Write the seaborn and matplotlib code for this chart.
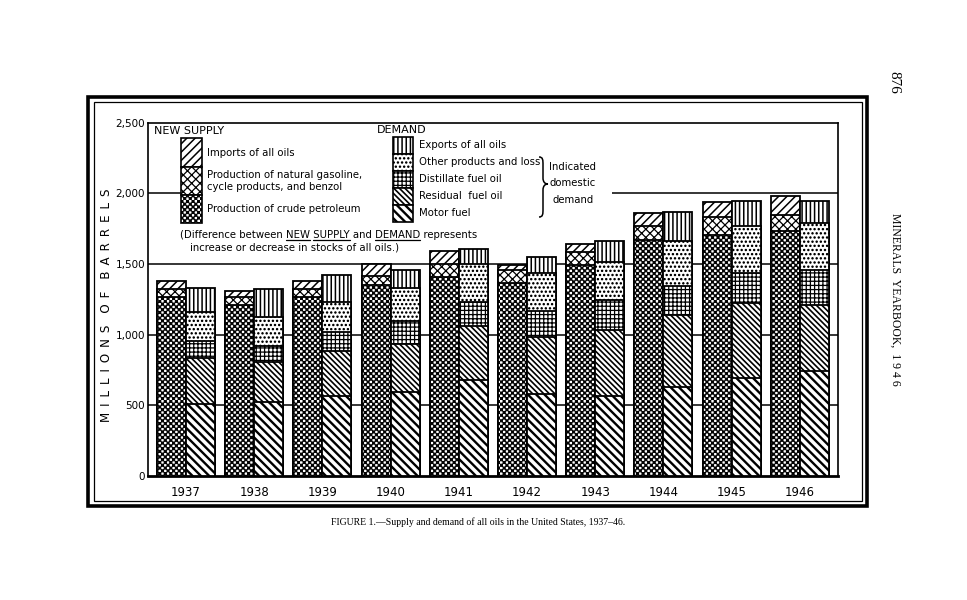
import numpy as np
import pandas as pd
import matplotlib
matplotlib.use("Agg")
import matplotlib.pyplot as plt
import matplotlib.hatch as mhatch
from matplotlib.path import Path
from matplotlib.patches import Rectangle, PathPatch
from matplotlib.lines import Line2D
import seaborn as sns

# ---------------- data (millions of barrels) ----------------
years = ["1937", "1938", "1939", "1940", "1941", "1942", "1943", "1944", "1945", "1946"]
# New supply (bottom to top)
crude = [1268, 1209, 1268, 1353, 1405, 1367, 1489, 1667, 1703, 1731]
natural_gasoline = [54, 55, 54, 59, 94, 90, 94, 99, 126, 112]
imports = [55, 46, 55, 87, 94, 32, 61, 93, 108, 134]
# Demand (bottom to top)
motor_fuel = [511, 523, 563, 594, 681, 582, 564, 629, 692, 740]
residual = [325, 282, 320, 336, 378, 404, 468, 511, 528, 471]
distillate = [117, 117, 134, 169, 174, 182, 211, 204, 218, 243]
other_products = [205, 201, 211, 228, 266, 265, 272, 316, 328, 335]
exports = [171, 199, 193, 132, 105, 117, 145, 204, 180, 157]

y_ticks = [0, 500, 1000, 1500, 2000, 2500]
y_tick_labels = ["0", "500", "1,000", "1,500", "2,000", "2,500"]


# ---------------- custom checkerboard hatch for crude petroleum ----------------
class CheckerHatch(mhatch.HatchPatternBase):
    def __init__(self, hatch, density):
        n = hatch.count('*') * density
        if n % 2:
            n += 1
        self.n = n
        self.cells = [(i, j) for i in range(n) for j in range(n) if (i + j) % 2 == 0]
        self.num_vertices = len(self.cells) * 5

    def set_vertices_and_codes(self, vertices, codes):
        a = 1.0 / self.n
        ins = 0.13 * a
        sq = np.array([[ins, ins], [a - ins, ins], [a - ins, a - ins], [ins, a - ins], [ins, ins]])
        c = [Path.MOVETO, Path.LINETO, Path.LINETO, Path.LINETO, Path.CLOSEPOLY]
        for k, (i, j) in enumerate(self.cells):
            vertices[k * 5:(k + 1) * 5] = sq + [i * a, j * a]
            codes[k * 5:(k + 1) * 5] = c


mhatch._hatch_types[mhatch._hatch_types.index(mhatch.Stars)] = CheckerHatch
mhatch.SmallFilledCircles.size = 0.16

H_IMP = '////'
H_NAT = 'xxxx'
H_CRUDE = '******'
H_EXP = '||||'
H_OTH = '....'
H_DIS = '++++'
H_RES = '\\' * 6
H_MOT = '\\' * 4

HLW = {H_IMP: 1.1, H_NAT: 0.9, H_CRUDE: 0.8, H_EXP: 1.1, H_OTH: 0.8,
       H_DIS: 0.9, H_RES: 1.2, H_MOT: 1.7}

sns.set_style("white")
plt.rcParams['font.family'] = ['DejaVu Sans']
plt.rcParams['text.color'] = 'black'
plt.rcParams['xtick.color'] = 'black'
plt.rcParams['ytick.color'] = 'black'
plt.rcParams['axes.labelcolor'] = 'black'
plt.rcParams['hatch.color'] = 'black'
plt.rcParams['hatch.linewidth'] = 1.0

W, H = 967, 600


def fx(x):
    return x / W


def fy(y):
    return 1 - y / H


def set_hlw(patches, lw):
    for p in patches:
        if hasattr(p, "set_hatch_linewidth"):
            p.set_hatch_linewidth(lw)


fig = plt.figure(figsize=(9.67, 6.0), dpi=100)
fig.patch.set_facecolor("white")
ax = fig.add_axes([fx(148), fy(476), (838 - 148) / W, (476 - 122.5) / H])

pos = np.arange(len(years))
bw = 0.425
sides = [
    (-bw / 2, [crude, natural_gasoline, imports], [H_CRUDE, H_NAT, H_IMP]),
    (bw / 2, [motor_fuel, residual, distillate, other_products, exports],
     [H_MOT, H_RES, H_DIS, H_OTH, H_EXP]),
]
for off, layers, hatches in sides:
    cum = np.cumsum(np.array(layers, dtype=float), axis=0)
    for k in reversed(range(len(layers))):
        n_before = len(ax.patches)
        sns.barplot(x=pos + off, y=cum[k], native_scale=True, orient="x", width=bw,
                    color="white", saturation=1, edgecolor="black", linewidth=1.3,
                    hatch=hatches[k], errorbar=None, ax=ax, zorder=3)
        set_hlw(ax.patches[n_before:], HLW[hatches[k]])

# grid lines
for v in y_ticks[1:-1]:
    ax.axhline(v, color="black", lw=1.1, zorder=1)

ax.set_xlim(-0.557, 9.56)
ax.set_ylim(0, 2500)
ax.set_xticks(pos)
ax.set_xticklabels(years, fontsize=8.5)
ax.set_yticks(y_ticks)
ax.set_yticklabels(y_tick_labels, fontsize=7.5)
ax.tick_params(axis="x", length=0, pad=7)
ax.tick_params(axis="y", length=0, pad=2)
ax.set_xlabel("")
ax.set_ylabel("")
for s in ["left", "top", "right"]:
    ax.spines[s].set_visible(True)
    ax.spines[s].set_linewidth(1.2)
    ax.spines[s].set_color("black")
ax.spines["bottom"].set_linewidth(2.0)
ax.spines["bottom"].set_color("black")

# white area behind the legend (hides the 2,000 line there)
ax.add_patch(Rectangle((fx(200), fy(228)), (612 - 200) / W, (228 - 125) / H,
                       transform=fig.transFigure, facecolor="white", edgecolor="none", zorder=2))

# ---------------- legend ----------------
TXT = dict(fontsize=7.3, va="center", ha="left", color="black")
fig.text(fx(154), fy(131), "NEW SUPPLY", fontsize=8, va="center", ha="left")
fig.text(fx(377), fy(130), "DEMAND", fontsize=8, va="center", ha="left")


def swatch(x0, y0, x1, y1, hatch):
    r = Rectangle((fx(x0), fy(y1)), (x1 - x0) / W, (y1 - y0) / H, transform=fig.transFigure,
                  facecolor="white", edgecolor="black", lw=1.2, hatch=hatch, zorder=5)
    set_hlw([r], HLW[hatch])
    fig.add_artist(r)


swatch(181, 138, 202, 167, H_IMP)
swatch(181, 167, 202, 195, H_NAT)
swatch(181, 195, 202, 223, H_CRUDE)
fig.text(fx(207), fy(153), "Imports of all oils", **TXT)
fig.text(fx(207), fy(175.5), "Production of natural gasoline,", **TXT)
fig.text(fx(207), fy(186.5), "cycle products, and benzol", **TXT)
fig.text(fx(207), fy(209.5), "Production of crude petroleum", **TXT)

swatch(393, 137, 413, 154, H_EXP)
swatch(393, 154, 413, 171, H_OTH)
swatch(393, 171, 413, 187.5, H_DIS)
swatch(393, 187.5, 413, 204.5, H_RES)
swatch(393, 204.5, 413, 222, H_MOT)
fig.text(fx(419), fy(145.5), "Exports of all oils", **TXT)
fig.text(fx(419), fy(162.5), "Other products and loss", **TXT)
fig.text(fx(419), fy(179.5), "Distillate fuel oil", **TXT)
fig.text(fx(419), fy(196), "Residual  fuel oil", **TXT)
fig.text(fx(419), fy(213), "Motor fuel", **TXT)

# brace
xb, xt, y0, ym, y1 = 539, 548, 157, 184, 217
pts = [(xb, y0), (xb + 4, y0), (xb + 4, y0 + 3), (xb + 4, y0 + 8),
       (xb + 4, ym - 6),
       (xb + 4, ym - 2), (xb + 6, ym), (xt, ym),
       (xb + 6, ym), (xb + 4, ym + 2), (xb + 4, ym + 6),
       (xb + 4, y1 - 8),
       (xb + 4, y1 - 3), (xb + 4, y1), (xb, y1)]
cds = [Path.MOVETO, Path.CURVE4, Path.CURVE4, Path.CURVE4, Path.LINETO,
       Path.CURVE4, Path.CURVE4, Path.CURVE4, Path.CURVE4, Path.CURVE4, Path.CURVE4,
       Path.LINETO, Path.CURVE4, Path.CURVE4, Path.CURVE4]
brace = PathPatch(Path([(fx(a), fy(b)) for a, b in pts], cds), transform=fig.transFigure,
                  facecolor="none", edgecolor="black", lw=1.1)
fig.add_artist(brace)
for yy, s in [(166.5, "Indicated"), (183, "domestic"), (200, "demand")]:
    fig.text(fx(573), fy(yy), s, fontsize=7.3, va="center", ha="center")

# note with underlined words
renderer = fig.canvas.get_renderer()
note1 = "(Difference between NEW SUPPLY and DEMAND represents"
nx0, ny = 180, 235
t_note = fig.text(fx(nx0), fy(ny), note1, **TXT)


def text_width(s):
    t = fig.text(0, 0, s, **TXT)
    w = t.get_window_extent(renderer).width
    t.remove()
    return w


x_start = t_note.get_window_extent(renderer).x0
for word, prefix in [("NEW", "(Difference between "), ("SUPPLY", "(Difference between NEW "),
                     ("DEMAND", "(Difference between NEW SUPPLY and ")]:
    end = text_width(prefix + word)
    start = end - text_width(word)
    yl = fy(ny + 4.6)
    fig.add_artist(Line2D([(x_start + start) / W, (x_start + end) / W], [yl, yl],
                          transform=fig.transFigure, color="black", lw=0.9))
fig.text(fx(190), fy(247), "increase or decrease in stocks of all oils.)", **TXT)

# y-axis title
sp = "\u2002"
label = (sp * 2).join(sp.join(list(w)) for w in ["MILLIONS", "OF", "BARRELS"])
fig.text(fx(106), fy(305), label, rotation=90, fontsize=8.6, va="center", ha="center")

# ---------------- page elements ----------------
fig.add_artist(Rectangle((fx(88), fy(506)), (867 - 88) / W, (506 - 97) / H, transform=fig.transFigure,
                         facecolor="none", edgecolor="black", lw=2.6))
fig.add_artist(Rectangle((fx(93.5), fy(501)), (862 - 93.5) / W, (501 - 102) / H, transform=fig.transFigure,
                         facecolor="none", edgecolor="black", lw=0.9))

fig.text(fx(478), fy(522), "FIGURE 1.\u2014Supply and demand of all oils in the United States, 1937\u201346.",
         family="Liberation Serif", fontsize=7, ha="center", va="center")
fig.text(fx(894), fy(82), "876", family="Liberation Serif", fontsize=11, rotation=-90,
         ha="center", va="center")
fig.text(fx(895), fy(299), "MINERALS  YEARBOOK,  1 9 4 6", family="Liberation Serif", fontsize=8.5,
         rotation=-90, ha="center", va="center")

fig.savefig("out.png", dpi=100, facecolor="white")
